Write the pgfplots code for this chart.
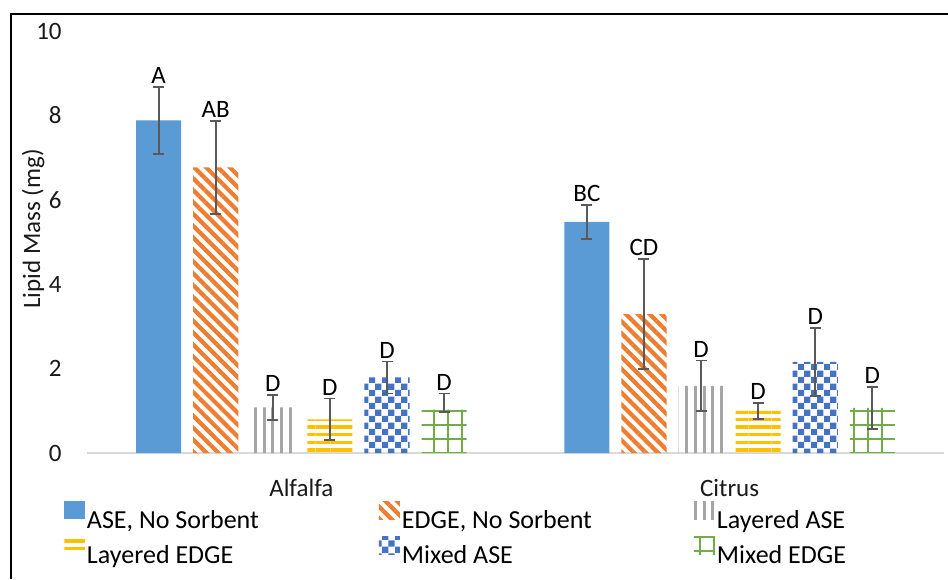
\documentclass[border=0pt]{standalone}
\usepackage{fontspec}
\setmainfont{Carlito}
\usepackage{pgfplots}
\pgfplotsset{compat=1.18}
\usetikzlibrary{patterns.meta}

\definecolor{cBlue}{HTML}{5B9BD5}
\definecolor{cOrange}{HTML}{ED7D31}
\definecolor{cGray}{HTML}{A5A5A5}
\definecolor{cYellow}{HTML}{FFC000}
\definecolor{cDBlue}{HTML}{4472C4}
\definecolor{cGreen}{HTML}{70AD47}
\definecolor{cErr}{HTML}{595959}
\definecolor{cBase}{HTML}{D9D9D9}

\pgfdeclarepattern{
  name=checker,
  type=uncolored,
  bottom left={\pgfpoint{0pt}{0pt}},
  top right={\pgfpoint{6.6pt}{6.6pt}},
  tile size={\pgfpoint{6.6pt}{6.6pt}},
  code={
    \pgfpathrectangle{\pgfpoint{0pt}{0pt}}{\pgfpoint{3.3pt}{3.3pt}}
    \pgfpathrectangle{\pgfpoint{3.3pt}{3.3pt}}{\pgfpoint{3.3pt}{3.3pt}}
    \pgfusepath{fill}
  }
}

\pgfplotsset{
  myleg/.style={legend image code/.code={\path[##1] (0pt,0pt) rectangle (10.5pt,9pt);}},
  mybar/.style={ybar, bar width=0.79, bar shift=0pt, draw=none, myleg,
    error bars/y dir=both, error bars/y explicit},
}

\begin{document}
\begin{tikzpicture}
\useasboundingbox (0,0) rectangle (474pt,-289.5pt);
\draw[line width=1.1pt, black] (5.5pt,-289.5pt) -- (5.5pt,-7pt) -- (474pt,-7pt);
\begin{axis}[
  at={(43.625pt,-226.5pt)}, anchor=south west,
  scale only axis, width=428.25pt, height=211pt,
  xmin=-3.75, xmax=11.25, ymin=0, ymax=10,
  axis x line*=bottom, axis y line*=left,
  y axis line style={draw=none},
  x axis line style={draw=cBase, line width=1pt},
  xtick={0,7.5}, xticklabels={Alfalfa,Citrus},
  ytick={0,2,...,10},
  major tick length=0pt,
  tick style={draw=none},
  /pgf/number format/assume math mode=true,
  tick label style={font=\fontsize{12.5}{15}\selectfont, text=black!90},
  yticklabel style={inner sep=0pt, anchor=east, xshift=-12.6pt},
  xticklabel style={inner sep=0pt, anchor=north, yshift=-13pt},
  ylabel={Lipid Mass (mg)},
  ylabel style={at={(axis description cs:-0.0633,0.531)}, anchor=center, font=\fontsize{12.5}{15}\selectfont, text=black!90},
  legend columns=3,
  legend cell align=left,
  legend style={draw=none, fill=none, at={(axis description cs:-0.02715,-0.114)}, anchor=north west,
    inner sep=0pt, outer sep=0pt, row sep=2.5pt, font=\fontsize{13}{15}\selectfont,
    nodes={inner sep=0pt},
    /tikz/every odd column/.append style={column sep=1pt}},
  error bars/error bar style={cErr, line width=0.9pt},
  error bars/error mark options={cErr, line width=0.9pt, mark size=2.75pt, rotate=90},
]
\addplot[mybar, fill=cBlue] coordinates {(-2.5,7.88) +- (0,0.8) (5,5.48) +- (0,0.4)};
\addlegendentry{\makebox[146pt][l]{\strut ASE, No Sorbent}}
\addplot[mybar, pattern={Lines[angle=-45, distance=4.2pt, line width=2.1pt]}, pattern color=cOrange] coordinates {(-1.5,6.77) +- (0,1.1) (6,3.29) +- (0,1.3)};
\addlegendentry{\makebox[146pt][l]{\strut EDGE, No Sorbent}}
\addplot[mybar, pattern={Lines[angle=90, distance=4.4pt, line width=1.5pt]}, pattern color=cGray] coordinates {(-0.5,1.08) +- (0,0.3) (7,1.59) +- (0,0.6)};
\addlegendentry{\makebox[146pt][l]{\strut Layered ASE}}
\addplot[mybar, pattern={Lines[angle=0, distance=3.8pt, line width=1.7pt]}, pattern color=cYellow] coordinates {(0.5,0.8) +- (0,0.49) (8,1.0) +- (0,0.19)};
\addlegendentry{\makebox[146pt][l]{\strut Layered EDGE}}
\addplot[mybar, pattern=checker, pattern color=cDBlue] coordinates {(1.5,1.79) +- (0,0.38) (9,2.16) +- (0,0.8)};
\addlegendentry{\makebox[146pt][l]{\strut Mixed ASE}}
\addplot[mybar, pattern={Hatch[angle=0, distance=7pt, line width=0.9pt]}, pattern color=cGreen] coordinates {(2.5,1.03) += (0,0.38) -= (0,0.05) (10,1.07) +- (0,0.5)};
\addlegendentry{\makebox[146pt][l]{\strut Mixed EDGE}}
\addplot[only marks, mark=*, mark size=0pt, mark options={draw=none,fill=none}, forget plot,
  nodes near coords, point meta=explicit symbolic,
  nodes near coords style={anchor=south, inner sep=1.5pt, font=\fontsize{12.5}{15}\selectfont, text=black}]
  coordinates {(-2.5,8.68)[A] (-1.5,7.87)[AB] (-0.5,1.38)[D] (0.5,1.29)[D] (1.5,2.17)[D] (2.5,1.41)[D]
               (5,5.88)[BC] (6,4.59)[CD] (7,2.19)[D] (8,1.19)[D] (9,2.96)[D] (10,1.57)[D]};
\end{axis}
\end{tikzpicture}
\end{document}
